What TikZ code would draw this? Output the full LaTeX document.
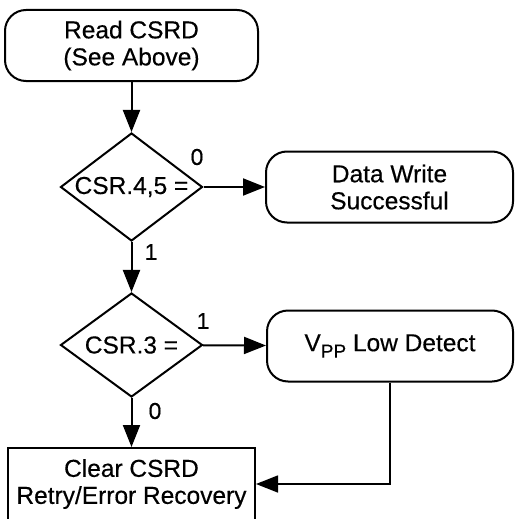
\documentclass[tikz,border=0pt]{standalone}
\usepackage{fontspec}
\setmainfont[FakeBold=0.4]{Liberation Sans}
\usetikzlibrary{arrows.meta,shapes.geometric}
\begin{document}
\begin{tikzpicture}[x=1pt,y=-1pt,
  line width=2pt,
  txt/.style={font=\fontsize{24.5}{27}\selectfont, align=center},
  term/.style={txt, draw, rounded corners=21pt, minimum width=#1, minimum height=71pt, inner sep=0pt},
  proc/.style={txt, draw, minimum width=#1, minimum height=72pt, inner sep=0pt},
  dec/.style={draw, diamond, minimum width=142pt, minimum height=#1, inner sep=0pt},
  lab/.style={font=\fontsize{23}{23}\selectfont, inner sep=0pt},
  arr/.style={-{Triangle[length=22pt,width=17pt]}},
]
\useasboundingbox (0,0) rectangle (515,519);
\node[term=253pt] (read) at (131.5,45.5) {Read CSRD\\(See Above)};
\node[dec=108pt] (d1) at (131.5,187) {};
\node[txt] (d1t) at (d1.center) {CSR.4,5 =};
\node[term=247pt] (dw) at (389.5,187) {Data Write\\Successful};
\node[dec=104pt] (d2) at (131.5,345) {};
\node[txt] (d2t) at (d2.center) {CSR.3 =};
\node[term=246pt] (vpp) at (390,346) {V\raisebox{-0.5ex}{\fontsize{19}{19}\selectfont PP} Low Detect};
\node[proc=247pt] (clear) at (131.5,484) {Clear CSRD\\Retry/Error Recovery};
\node[lab] (l0a) at (197,157) {0};
\node[lab] (l1a) at (151,252) {1};
\node[lab] (l1b) at (203,321) {1};
\node[lab] (l0b) at (155,411) {0};
\draw[arr] (read) -- (d1);
\draw[arr] (d1) -- (dw);
\draw[arr] (d1) -- (d2);
\draw[arr] (d2) -- (vpp);
\draw[arr] (d2) -- (clear);
\draw[arr, line width=1.5pt] (vpp.south) |- (clear.east);
\end{tikzpicture}
\end{document}
